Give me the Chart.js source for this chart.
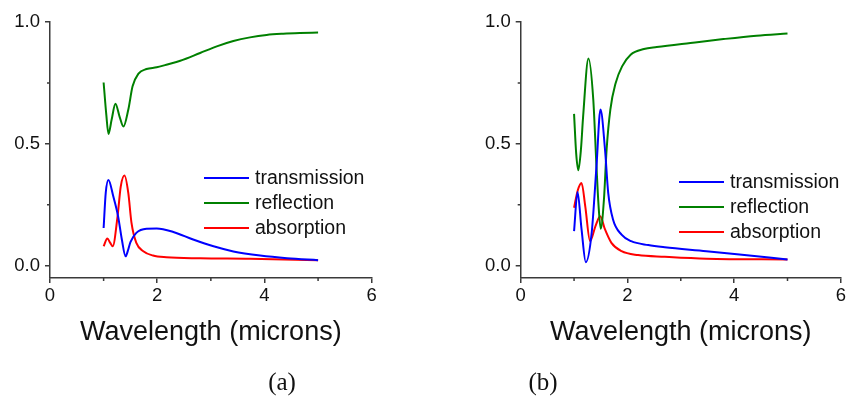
<!DOCTYPE html>
<html lang="en">
<head>
    <meta charset="UTF-8">
    <title>Transmission / reflection / absorption</title>
    <script src="https://cdn.jsdelivr.net/npm/chart.js"></script>
    <style>
        body { margin: 0; background: #fff; }
        #wrap { position: relative; width: 848px; height: 401px; overflow: hidden; }
        canvas { position: absolute; top: 0; }
        .tag { position: absolute; top: 368px; font: 25px "Liberation Serif", serif; color: #111; transform: translateX(-50%); }
    </style>
</head>
<body>
    <div id="wrap">
        <canvas id="chartA" width="424" height="401" style="left:0"></canvas>
        <canvas id="chartB" width="424" height="401" style="left:424px"></canvas>
        <div class="tag" style="left:282px">(a)</div>
        <div class="tag" style="left:543px">(b)</div>
    </div>

    <script>
        // panel (a)
        const transA_x = [1.00, 1.04, 1.09, 1.18, 1.27, 1.34, 1.41, 1.45, 1.50, 1.61, 1.80, 1.99, 2.30, 2.67, 3.05, 3.42, 3.92, 4.42, 5.00];
        const transA_y = [0.155, 0.30, 0.352, 0.285, 0.203, 0.108, 0.039, 0.060, 0.097, 0.135, 0.152, 0.153, 0.139, 0.108, 0.080, 0.059, 0.042, 0.031, 0.023];
        const reflA_x = [1.00, 1.05, 1.09, 1.15, 1.22, 1.30, 1.37, 1.46, 1.54, 1.65, 1.80, 1.99, 2.17, 2.43, 2.80, 3.11, 3.42, 3.73, 4.04, 4.35, 4.66, 5.00];
        const reflA_y = [0.752, 0.62, 0.541, 0.60, 0.665, 0.61, 0.571, 0.64, 0.736, 0.788, 0.807, 0.814, 0.825, 0.841, 0.873, 0.900, 0.922, 0.937, 0.947, 0.952, 0.955, 0.957];
        const absA_x = [1.00, 1.07, 1.12, 1.17, 1.26, 1.32, 1.39, 1.46, 1.52, 1.61, 1.74, 1.92, 2.17, 2.80, 3.73, 5.00];
        const absA_y = [0.080, 0.112, 0.095, 0.080, 0.203, 0.326, 0.370, 0.299, 0.176, 0.094, 0.060, 0.042, 0.035, 0.031, 0.029, 0.023];

        // panel (b)
        const transB_x = [1.00, 1.065, 1.14, 1.22, 1.33, 1.42, 1.495, 1.58, 1.64, 1.73, 1.89, 2.07, 2.39, 2.70, 3.48, 4.10, 5.00];
        const transB_y = [0.142, 0.303, 0.15, 0.015, 0.135, 0.408, 0.641, 0.477, 0.299, 0.19, 0.128, 0.101, 0.085, 0.076, 0.060, 0.046, 0.026];
        const reflB_x = [1.00, 1.04, 1.08, 1.13, 1.17, 1.27, 1.36, 1.42, 1.46, 1.50, 1.56, 1.61, 1.68, 1.78, 1.90, 2.06, 2.31, 2.55, 3.18, 3.80, 4.42, 5.00];
        const reflB_y = [0.623, 0.46, 0.392, 0.48, 0.613, 0.850, 0.682, 0.408, 0.244, 0.152, 0.272, 0.477, 0.641, 0.75, 0.818, 0.866, 0.889, 0.897, 0.914, 0.930, 0.944, 0.953];
        const absB_x = [1.00, 1.07, 1.14, 1.21, 1.30, 1.40, 1.49, 1.58, 1.70, 1.89, 2.20, 2.70, 3.48, 5.00];
        const absB_y = [0.238, 0.31, 0.340, 0.244, 0.101, 0.162, 0.203, 0.149, 0.094, 0.060, 0.044, 0.037, 0.029, 0.026];

        const seriesNames = ['transmission', 'reflection', 'absorption'];
        const xTicks = [0, 2, 4, 6];
        const xMinor = [1, 3, 5];
        const yTicks = [0, 0.5, 1.0];
        const yMinor = [0.25, 0.75];
        const xTitle = 'Wavelength (microns)';

        const colors = ['#0000ff', '#008000', '#ff0000'];
        const axisColor = '#3a3a3a';

        Chart.defaults.font.family = '"Liberation Sans", Arial, sans-serif';
        Chart.defaults.color = '#111';

        function pts(xs, ys) {
            return xs.map((x, i) => ({ x: x, y: ys[i] }));
        }

        // minor ticks + legend drawn next to the plot like the original
        const extras = {
            id: 'extras',
            afterDraw(chart, args, opts) {
                const { ctx, chartArea } = chart;
                const x = chart.scales.x, y = chart.scales.y;
                ctx.save();
                ctx.strokeStyle = axisColor;
                ctx.lineWidth = 1.5;
                ctx.beginPath();
                xMinor.forEach(v => {
                    const p = x.getPixelForValue(v);
                    ctx.moveTo(p, chartArea.bottom);
                    ctx.lineTo(p, chartArea.bottom + 3);
                });
                yMinor.forEach(v => {
                    const p = y.getPixelForValue(v);
                    ctx.moveTo(chartArea.left, p);
                    ctx.lineTo(chartArea.left - 3, p);
                });
                ctx.stroke();

                ctx.font = '19.5px "Liberation Sans", Arial, sans-serif';
                ctx.textBaseline = 'middle';
                ctx.fillStyle = '#111';
                chart.data.datasets.forEach((ds, i) => {
                    const ly = chartArea.top + opts.top + i * 25;
                    const lx = chartArea.left + opts.left;
                    ctx.strokeStyle = ds.borderColor;
                    ctx.lineWidth = 2;
                    ctx.beginPath();
                    ctx.moveTo(lx, ly);
                    ctx.lineTo(lx + 45, ly);
                    ctx.stroke();
                    ctx.fillText(ds.label, lx + 51, ly + 1);
                });
                ctx.restore();
            }
        };

        function makePanel(id, data, yWidth, padRight, legend) {
            new Chart(document.getElementById(id), {
                type: 'line',
                data: {
                    datasets: data.map((d, i) => ({
                        label: seriesNames[i],
                        data: d,
                        borderColor: colors[i],
                        borderWidth: 2,
                        pointRadius: 0,
                        fill: false,
                        cubicInterpolationMode: 'monotone'
                    }))
                },
                options: {
                    responsive: false,
                    animation: false,
                    layout: { padding: { top: 22, right: padRight, bottom: 0, left: 0 } },
                    plugins: {
                        legend: { display: false },
                        tooltip: { enabled: false },
                        extras: legend
                    },
                    scales: {
                        x: {
                            type: 'linear',
                            min: 0,
                            max: 6,
                            afterBuildTicks: s => { s.ticks = xTicks.map(v => ({ value: v })); },
                            afterFit: s => { s.height = 123; },
                            border: { color: axisColor, width: 1.5 },
                            grid: { drawOnChartArea: false, tickLength: 5, color: axisColor, lineWidth: 1.5 },
                            ticks: { font: { size: 18.5 }, padding: 2, maxRotation: 0, color: '#111' },
                            title: {
                                display: true,
                                text: xTitle,
                                font: { size: 27 },
                                color: '#111',
                                padding: { top: 0, bottom: 52 }
                            }
                        },
                        y: {
                            min: -0.05,
                            max: 1.0,
                            afterBuildTicks: s => { s.ticks = yTicks.map(v => ({ value: v })); },
                            afterFit: s => { s.width = yWidth; },
                            border: { color: axisColor, width: 1.5 },
                            grid: { drawOnChartArea: false, tickLength: 5, color: axisColor, lineWidth: 1.5 },
                            ticks: { font: { size: 18.5 }, padding: 5, color: '#111', callback: v => v.toFixed(1) }
                        }
                    }
                },
                plugins: [extras]
            });
        }

        makePanel('chartA',
            [pts(transA_x, transA_y), pts(reflA_x, reflA_y), pts(absA_x, absA_y)],
            50, 52.3, { left: 154, top: 156 });
        makePanel('chartB',
            [pts(transB_x, transB_y), pts(reflB_x, reflB_y), pts(absB_x, absB_y)],
            96.7, 6.3, { left: 158.3, top: 160 });
    </script>
</body>
</html>
